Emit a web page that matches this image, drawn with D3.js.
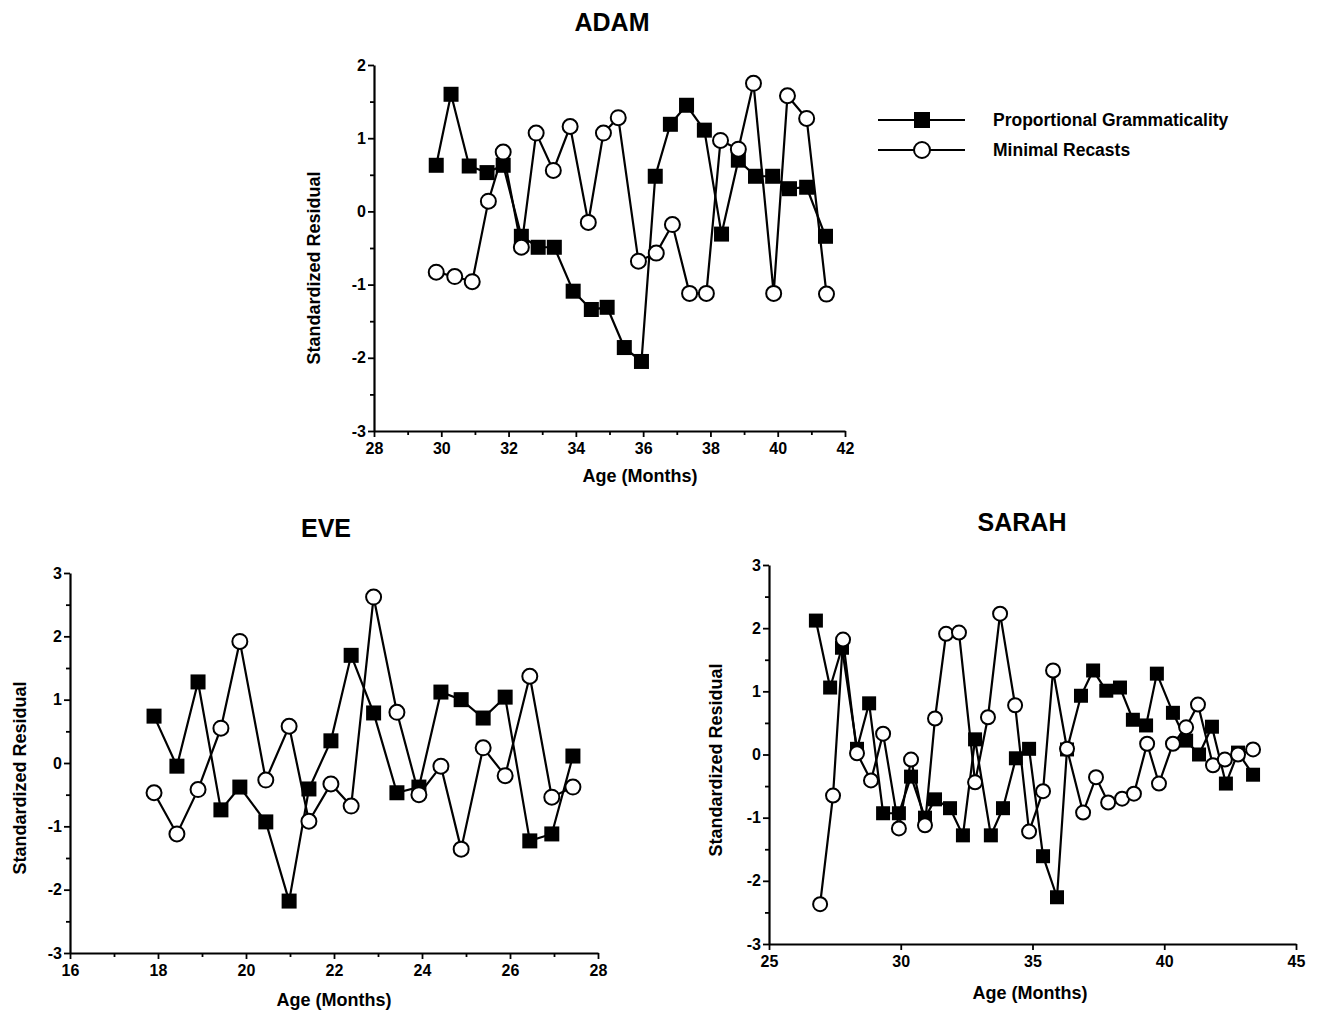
<!DOCTYPE html>
<html>
<head>
<meta charset="utf-8">
<script src="https://cdn.jsdelivr.net/npm/d3@7"></script>
<style>
  body { margin: 0; background: #fff; }
  svg text { font-family: "Liberation Sans", Arial, sans-serif; font-weight: bold; fill: #000; }
</style>
</head>
<body>
<svg id="chart" width="1322" height="1012"></svg>
<script>
// ---- data ----
const seriesNames = ["Proportional Grammaticality", "Minimal Recasts"];

// ADAM
const adamGramAge = [29.85,30.29,30.83,31.36,31.84,32.38,32.88,33.36,33.92,34.46,34.93,35.44,35.95,36.36,36.81,37.29,37.82,38.33,38.83,39.34,39.85,40.35,40.86,41.42];
const adamGram = [0.63,1.60,0.62,0.53,0.63,-0.34,-0.49,-0.49,-1.09,-1.34,-1.31,-1.86,-2.05,0.48,1.19,1.45,1.11,-0.31,0.70,0.48,0.48,0.31,0.33,-0.34];
const adamRecastAge = [29.85,30.40,30.92,31.40,31.84,32.38,32.82,33.33,33.83,34.37,34.82,35.26,35.86,36.39,36.87,37.38,37.88,38.30,38.83,39.28,39.88,40.29,40.86,41.45];
const adamRecast = [-0.83,-0.89,-0.96,0.14,0.81,-0.49,1.07,0.56,1.16,-0.15,1.07,1.28,-0.68,-0.57,-0.18,-1.12,-1.12,0.97,0.85,1.75,-1.12,1.58,1.27,-1.13];

// EVE
const eveAge = [17.91,18.43,18.91,19.43,19.86,20.45,20.98,21.43,21.93,22.39,22.90,23.43,23.93,24.43,24.89,25.39,25.89,26.45,26.95,27.43];
const eveGram = [0.74,-0.05,1.28,-0.74,-0.38,-0.93,-2.18,-0.41,0.35,1.70,0.79,-0.47,-0.38,1.12,1.00,0.71,1.04,-1.23,-1.12,0.11];
const eveRecast = [-0.47,-1.12,-0.42,0.55,1.92,-0.27,0.58,-0.92,-0.33,-0.68,2.62,0.80,-0.50,-0.05,-1.36,0.24,-0.20,1.37,-0.54,-0.38];

// SARAH
const sarahGramAge = [26.78,27.32,27.77,28.34,28.80,29.33,29.93,30.39,30.92,31.30,31.87,32.36,32.82,33.42,33.88,34.37,34.87,35.40,35.93,36.31,36.84,37.30,37.80,38.32,38.81,39.31,39.72,40.33,40.83,41.32,41.81,42.34,42.80,43.37];
const sarahGram = [2.12,1.06,1.69,0.09,0.81,-0.93,-0.93,-0.35,-1.00,-0.71,-0.85,-1.28,0.24,-1.28,-0.85,-0.06,0.09,-1.61,-2.26,0.08,0.93,1.33,1.01,1.06,0.55,0.46,1.28,0.66,0.22,0.00,0.44,-0.46,0.03,-0.32];
const sarahRecastAge = [26.94,27.43,27.81,28.34,28.87,29.33,29.93,30.39,30.92,31.30,31.72,32.21,32.82,33.31,33.77,34.34,34.87,35.40,35.78,36.31,36.92,37.41,37.87,38.40,38.85,39.35,39.80,40.33,40.83,41.28,41.85,42.30,42.80,43.37];
const sarahRecast = [-2.37,-0.65,1.82,0.02,-0.41,0.33,-1.17,-0.08,-1.12,0.57,1.91,1.93,-0.44,0.59,2.23,0.78,-1.22,-0.58,1.33,0.09,-0.92,-0.36,-0.76,-0.70,-0.62,0.17,-0.46,0.17,0.43,0.79,-0.17,-0.08,0.00,0.08];

// tick labels
const adamXTicks = [28,30,32,34,36,38,40,42];
const adamXMinor = [29,31,33,35,37,39,41];
const adamYTicks = [-3,-2,-1,0,1,2];
const eveXTicks = [16,18,20,22,24,26,28];
const eveXMinor = [17,19,21,23,25,27];
const sarahXTicks = [25,30,35,40,45];
const bigYTicks = [-3,-2,-1,0,1,2,3];

// ---- layout ----
const svg = d3.select("#chart");
const fmt = d => String(d);   // plain hyphen minus like the original

function halfSteps(lo, hi) {
  const out = [];
  for (let v = lo + 0.5; v < hi; v += 1) out.push(v);
  return out;
}

function drawPanel(p) {
  const x = d3.scaleLinear().domain(p.xDomain).range([p.x0, p.x1]);
  const y = d3.scaleLinear().domain(p.yDomain).range([p.y0, p.y1]);
  const g = svg.append("g");

  // x axis
  const xa = g.append("g").attr("transform", `translate(0,${p.y0})`)
    .call(d3.axisBottom(x).tickValues(p.xTicks).tickFormat(fmt).tickSize(6).tickSizeOuter(0).tickPadding(4));
  if (p.xMinor) {
    g.append("g").attr("transform", `translate(0,${p.y0})`)
      .call(d3.axisBottom(x).tickValues(p.xMinor).tickSize(4).tickSizeOuter(0).tickFormat(""))
      .select(".domain").remove();
  }
  // y axis
  g.append("g").attr("transform", `translate(${p.x0},0)`)
    .call(d3.axisLeft(y).tickValues(p.yTicks).tickFormat(fmt).tickSize(6).tickSizeOuter(0).tickPadding(2));
  g.append("g").attr("transform", `translate(${p.x0},0)`)
    .call(d3.axisLeft(y).tickValues(halfSteps(p.yDomain[0], p.yDomain[1])).tickSize(4).tickSizeOuter(0).tickFormat(""))
    .select(".domain").remove();

  g.selectAll(".domain").attr("stroke", "#000").attr("stroke-width", 2.2);
  g.selectAll(".tick line").attr("stroke", "#000").attr("stroke-width", 1.8);
  g.selectAll(".tick text").style("font-size", "16px").attr("fill", "#000");
  xa.selectAll(".tick text").attr("dy", "0.8em");

  // titles
  g.append("text").attr("x", p.titleX).attr("y", p.titleY)
    .attr("text-anchor", "middle").style("font-size", "25px").text(p.title);
  g.append("text").attr("x", p.xLabelX).attr("y", p.xLabelY)
    .attr("text-anchor", "middle").style("font-size", "18px").text("Age (Months)");
  g.append("text")
    .attr("transform", `translate(${p.yLabelX},${p.yLabelY}) rotate(-90)`)
    .attr("text-anchor", "middle").style("font-size", "18px").text("Standardized Residual");

  const line = d3.line().x(d => x(d[0])).y(d => y(d[1]));
  const gram = d3.zip(p.gramAge, p.gram);
  const rec = d3.zip(p.recAge, p.rec);

  g.append("path").datum(gram).attr("d", line)
    .attr("fill", "none").attr("stroke", "#000").attr("stroke-width", 2.2);
  g.append("path").datum(rec).attr("d", line)
    .attr("fill", "none").attr("stroke", "#000").attr("stroke-width", 2.2);

  g.selectAll(".sq").data(gram).enter().append("rect")
    .attr("class", "sq")
    .attr("x", d => x(d[0]) - p.sq / 2).attr("y", d => y(d[1]) - p.sq / 2)
    .attr("width", p.sq).attr("height", p.sq)
    .attr("fill", "#000");

  g.selectAll(".ci").data(rec).enter().append("circle")
    .attr("class", "ci")
    .attr("cx", d => x(d[0])).attr("cy", d => y(d[1])).attr("r", p.r)
    .attr("fill", "#fff").attr("stroke", "#000").attr("stroke-width", 2);
}

drawPanel({
  title: "ADAM", titleX: 612, titleY: 31,
  xDomain: [28, 42], x0: 374, x1: 845,
  yDomain: [-3, 2], y0: 431, y1: 65,
  xTicks: adamXTicks, xMinor: adamXMinor, yTicks: adamYTicks,
  xLabelX: 640, xLabelY: 482, yLabelX: 320, yLabelY: 268,
  gramAge: adamGramAge, gram: adamGram, recAge: adamRecastAge, rec: adamRecast,
  sq: 15, r: 7.5
});

drawPanel({
  title: "EVE", titleX: 326, titleY: 537,
  xDomain: [16, 28], x0: 70, x1: 598,
  yDomain: [-3, 3], y0: 953, y1: 573,
  xTicks: eveXTicks, xMinor: eveXMinor, yTicks: bigYTicks,
  xLabelX: 334, xLabelY: 1006, yLabelX: 26, yLabelY: 778,
  gramAge: eveAge, gram: eveGram, recAge: eveAge, rec: eveRecast,
  sq: 15, r: 7.5
});

drawPanel({
  title: "SARAH", titleX: 1022, titleY: 531,
  xDomain: [25, 45], x0: 769, x1: 1296,
  yDomain: [-3, 3], y0: 944, y1: 565,
  xTicks: sarahXTicks, xMinor: null, yTicks: bigYTicks,
  xLabelX: 1030, xLabelY: 999, yLabelX: 722, yLabelY: 760,
  gramAge: sarahGramAge, gram: sarahGram, recAge: sarahRecastAge, rec: sarahRecast,
  sq: 14, r: 7
});

// legend
const legend = svg.append("g");
[120, 150].forEach((ly, i) => {
  legend.append("line").attr("x1", 878).attr("x2", 965).attr("y1", ly).attr("y2", ly)
    .attr("stroke", "#000").attr("stroke-width", 2);
  if (i === 0) {
    legend.append("rect").attr("x", 914).attr("y", ly - 8).attr("width", 16).attr("height", 16).attr("fill", "#000");
  } else {
    legend.append("circle").attr("cx", 922).attr("cy", ly).attr("r", 8)
      .attr("fill", "#fff").attr("stroke", "#000").attr("stroke-width", 2);
  }
  legend.append("text").attr("x", 993).attr("y", ly + 6).style("font-size", "17.5px").text(seriesNames[i]);
});
</script>
</body>
</html>
